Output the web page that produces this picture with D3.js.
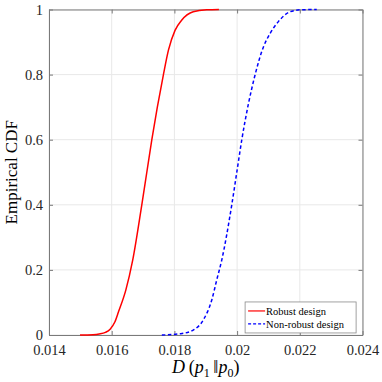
<!DOCTYPE html>
<html>
<head>
<meta charset="utf-8">
<script src="https://cdn.jsdelivr.net/npm/d3@7"></script>
<style>
  body { margin: 0; background: #fff; }
  svg text { font-family: "Liberation Serif", "Times New Roman", "DejaVu Serif", serif; }
</style>
</head>
<body>
<div id="chart"></div>
<script>
// empirical CDF samples
const robustX = [0.01499, 0.0154, 0.0156, 0.0158, 0.01595, 0.0161, 0.01622, 0.01645, 0.01667, 0.01696, 0.01712, 0.01728, 0.01765, 0.01781, 0.01802, 0.01823, 0.0186, 0.01903, 0.01942];
const robustY = [0, 0.001, 0.003, 0.008, 0.018, 0.04, 0.072, 0.138, 0.23, 0.4, 0.5, 0.6, 0.8, 0.875, 0.936, 0.967, 0.993, 0.999, 1];
const nonRobustX = [0.0176, 0.0182, 0.0186, 0.01892, 0.01919, 0.01935, 0.01951, 0.01983, 0.01999, 0.02015, 0.02057, 0.02084, 0.02105, 0.02131, 0.02169, 0.02201, 0.02254];
const nonRobustY = [0, 0.004, 0.015, 0.046, 0.107, 0.169, 0.23, 0.4, 0.5, 0.6, 0.798, 0.885, 0.926, 0.962, 0.993, 0.999, 1];
const xTicks = [0.014, 0.016, 0.018, 0.02, 0.022, 0.024];
const yTicks = [0, 0.2, 0.4, 0.6, 0.8, 1];
const seriesNames = ["Robust design", "Non-robust design"];

const width = 382, height = 382;
const margin = {top: 9.5, right: 19.5, bottom: 47, left: 49};
const innerW = width - margin.left - margin.right;
const innerH = height - margin.top - margin.bottom;
const serif = "'Liberation Serif', 'Times New Roman', serif";

const svg = d3.select("#chart").append("svg")
    .attr("width", width)
    .attr("height", height);

const chart = svg.append("g")
    .attr("transform", `translate(${margin.left}, ${margin.top})`);

const x = d3.scaleLinear().domain([0.014, 0.024]).range([0, innerW]);
const y = d3.scaleLinear().domain([0, 1]).range([innerH, 0]);

// grid
chart.append("g").selectAll("line")
    .data(xTicks).enter().append("line")
    .attr("x1", d => x(d)).attr("x2", d => x(d))
    .attr("y1", 0).attr("y2", innerH)
    .attr("stroke", "#e8e8e8").attr("stroke-width", 1);
chart.append("g").selectAll("line")
    .data(yTicks).enter().append("line")
    .attr("y1", d => y(d)).attr("y2", d => y(d))
    .attr("x1", 0).attr("x2", innerW)
    .attr("stroke", "#e8e8e8").attr("stroke-width", 1);

// axes with inward ticks on all four sides
const axisColor = "#7a7a7a";
const axBottom = chart.append("g").attr("transform", `translate(0, ${innerH})`)
    .call(d3.axisBottom(x).tickValues(xTicks).tickSizeInner(-4).tickSizeOuter(0).tickPadding(9.5).tickFormat(d3.format("")));
const axLeft = chart.append("g")
    .call(d3.axisLeft(y).tickValues(yTicks).tickSizeInner(-4).tickSizeOuter(0).tickPadding(6).tickFormat(d3.format("")));
const axTop = chart.append("g")
    .call(d3.axisTop(x).tickValues(xTicks).tickSizeInner(-4).tickSizeOuter(0).tickFormat(""));
const axRight = chart.append("g").attr("transform", `translate(${innerW}, 0)`)
    .call(d3.axisRight(y).tickValues(yTicks).tickSizeInner(-4).tickSizeOuter(0).tickFormat(""));

[axBottom, axLeft, axTop, axRight].forEach(a => {
    a.attr("font-family", serif);
    a.select(".domain").attr("stroke", axisColor);
    a.selectAll(".tick line").attr("stroke", axisColor);
    a.selectAll(".tick text")
        .attr("fill", "#262626")
        .style("font-family", serif)
        .style("font-size", "14.5px");
});

// curves
const line = d3.line()
    .x(d => x(d[0]))
    .y(d => y(d[1]))
    .curve(d3.curveMonotoneX);

chart.append("path")
    .datum(d3.zip(robustX, robustY))
    .attr("d", line)
    .attr("fill", "none")
    .attr("stroke", "#ff0000")
    .attr("stroke-width", 1.5);

chart.append("path")
    .datum(d3.zip(nonRobustX, nonRobustY))
    .attr("d", line)
    .attr("fill", "none")
    .attr("stroke", "#0000ff")
    .attr("stroke-width", 1.5)
    .attr("stroke-dasharray", "3.5,2.5");

// legend
const legend = chart.append("g")
    .attr("transform", `translate(${x(0.02) + 8}, ${y(0.1) - 0.5})`);
legend.append("rect")
    .attr("width", 111).attr("height", 31)
    .attr("fill", "#fff")
    .attr("stroke", "#8a8a8a").attr("stroke-width", 0.8);
const styles = [{c: "#ff0000", dash: null}, {c: "#0000ff", dash: "3,2"}];
seriesNames.forEach((name, i) => {
    const ly = 9 + i * 13;
    legend.append("line")
        .attr("x1", 3).attr("x2", 20)
        .attr("y1", ly).attr("y2", ly)
        .attr("stroke", styles[i].c).attr("stroke-width", 1.2)
        .attr("stroke-dasharray", styles[i].dash);
    legend.append("text")
        .attr("x", 21).attr("y", ly)
        .attr("dy", "0.35em")
        .style("font-family", serif)
        .style("font-size", "10.5px")
        .attr("fill", "#000")
        .text(name);
});

// axis titles
svg.append("text")
    .attr("transform", `translate(17, ${margin.top + innerH / 2}) rotate(-90)`)
    .attr("text-anchor", "middle")
    .style("font-family", serif)
    .style("font-size", "17px")
    .text("Empirical CDF");

const xt = svg.append("text")
    .attr("x", margin.left + innerW / 2)
    .attr("y", 373)
    .attr("text-anchor", "middle")
    .style("font-family", serif)
    .style("font-size", "18px");
xt.append("tspan").attr("font-style", "italic").text("D");
xt.append("tspan").text("\u2009(");
xt.append("tspan").attr("font-style", "italic").text("p");
xt.append("tspan").attr("dy", 4).style("font-size", "12px").text("1");
xt.append("tspan").attr("dy", -4).text("\u2009\u2016");
xt.append("tspan").attr("font-style", "italic").text("p");
xt.append("tspan").attr("dy", 4).style("font-size", "12px").text("0");
xt.append("tspan").attr("dy", -4).text(")");
</script>
</body>
</html>
